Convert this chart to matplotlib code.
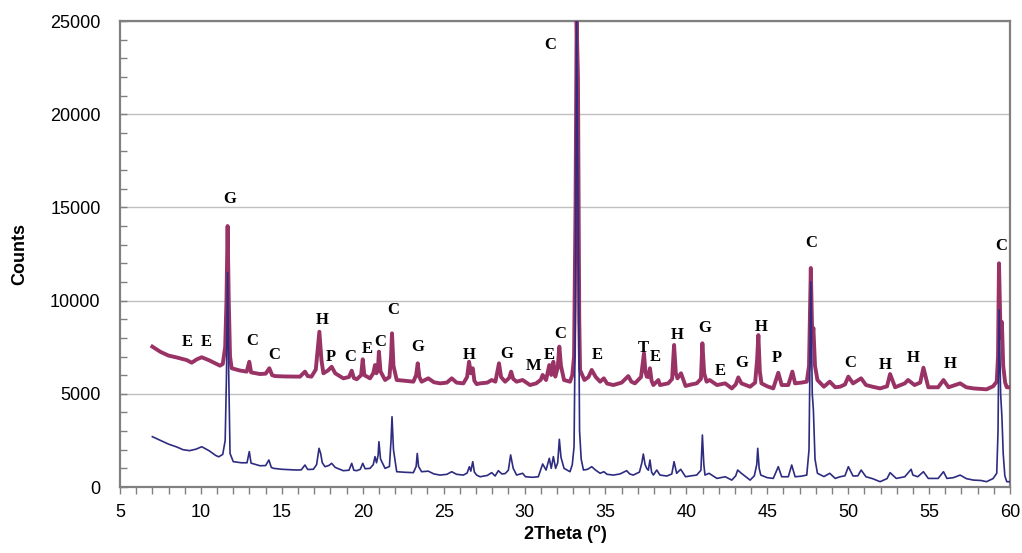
import matplotlib
matplotlib.use("Agg")
import matplotlib.pyplot as plt
from matplotlib.ticker import MultipleLocator

# ---- data (2theta in degrees, counts) ----
blue_pattern = [
    (7.0, 2700), (7.5, 2500), (8.0, 2300), (8.5, 2150), (8.9, 2000), (9.3, 1950), (9.7, 2030),
    (10.05, 2160), (10.5, 1950), (10.9, 1700), (11.1, 1620), (11.35, 1750), (11.5, 2500),
    (11.58, 6000), (11.65, 11500), (11.72, 6000), (11.8, 1800), (12.0, 1360), (12.5, 1300),
    (12.85, 1300), (12.99, 1900), (13.1, 1280), (13.65, 1140), (14.0, 1150), (14.2, 1450),
    (14.35, 1050), (14.5, 1000), (15.0, 950), (15.5, 930), (15.92, 910), (16.2, 920),
    (16.43, 1180), (16.6, 940), (16.95, 950), (17.15, 1200), (17.3, 2075), (17.4, 1800),
    (17.5, 1300), (17.67, 1090), (17.9, 1150), (18.08, 1270), (18.3, 1050), (18.8, 875),
    (19.15, 900), (19.32, 1270), (19.45, 900), (19.63, 875), (19.85, 950), (20.0, 1270),
    (20.15, 980), (20.45, 1000), (20.65, 1200), (20.76, 1630), (20.85, 1300), (20.95, 1700),
    (21.0, 2430), (21.1, 1500), (21.38, 1000), (21.65, 1100), (21.75, 2500), (21.81, 3770),
    (21.9, 2000), (22.1, 820), (22.6, 790), (23.13, 770), (23.3, 1100), (23.37, 1800),
    (23.45, 1100), (23.64, 820), (24.05, 850), (24.4, 700), (24.78, 640), (25.2, 680),
    (25.5, 820), (25.8, 680), (26.22, 640), (26.45, 750), (26.59, 1090), (26.68, 850),
    (26.8, 1360), (26.9, 800), (27.04, 640), (27.25, 550), (27.7, 620), (27.97, 770),
    (28.18, 590), (28.38, 875), (28.6, 700), (28.8, 720), (29.0, 900), (29.14, 1720),
    (29.3, 1000), (29.51, 640), (29.88, 735), (30.06, 550), (30.5, 520), (30.85, 550),
    (31.12, 1235), (31.33, 910), (31.53, 1540), (31.65, 1000), (31.78, 1630), (31.92, 1000),
    (32.05, 1300), (32.15, 2560), (32.25, 1600), (32.44, 1000), (32.81, 820), (32.95, 1200),
    (33.06, 2160), (33.15, 10000), (33.22, 25000), (33.3, 15000), (33.4, 3000), (33.5, 1500),
    (33.64, 910), (33.9, 950), (34.15, 1090), (34.4, 900), (34.67, 735), (34.9, 820),
    (35.1, 680), (35.49, 640), (35.9, 700), (36.31, 875), (36.5, 700), (36.72, 640),
    (37.1, 800), (37.25, 1300), (37.34, 1770), (37.45, 1200), (37.55, 1000), (37.65, 900),
    (37.75, 1450), (37.85, 800), (37.96, 640), (38.17, 910), (38.37, 640), (38.8, 590),
    (39.1, 700), (39.24, 1360), (39.4, 735), (39.65, 950), (39.95, 550), (40.3, 600),
    (40.64, 640), (40.9, 900), (40.99, 2790), (41.08, 1200), (41.15, 640), (41.4, 735),
    (41.89, 460), (42.4, 550), (42.81, 370), (43.05, 600), (43.17, 910), (43.4, 735),
    (43.94, 370), (44.2, 600), (44.35, 1200), (44.41, 2075), (44.5, 1000), (44.6, 640),
    (45.0, 500), (45.37, 460), (45.68, 1090), (45.89, 550), (46.3, 550), (46.51, 1180),
    (46.72, 550), (47.1, 580), (47.44, 640), (47.58, 2000), (47.69, 11000), (47.78, 5000),
    (47.85, 4130), (47.95, 1500), (48.1, 735), (48.5, 560), (48.86, 735), (49.2, 460),
    (49.5, 550), (49.8, 600), (50.01, 1090), (50.3, 590), (50.6, 600), (50.8, 910),
    (51.1, 550), (51.5, 450), (51.97, 285), (52.4, 450), (52.59, 770), (52.97, 460),
    (53.5, 550), (53.89, 950), (54.0, 640), (54.3, 550), (54.65, 820), (54.95, 460),
    (55.56, 460), (55.89, 820), (56.1, 460), (56.5, 500), (56.92, 640), (57.3, 450),
    (57.74, 370), (58.2, 350), (58.55, 285), (58.95, 450), (59.18, 735), (59.26, 3000),
    (59.33, 9500), (59.42, 5000), (59.5, 3770), (59.58, 1800), (59.68, 600), (59.8, 285),
    (60.0, 285),
]

pink_pattern = [
    (7.0, 7530), (7.5, 7250), (8.0, 7050), (8.5, 6950), (9.12, 6810), (9.43, 6670), (9.75, 6850),
    (10.05, 6960), (10.5, 6800), (11.18, 6510), (11.35, 6600), (11.5, 7500), (11.58, 10000),
    (11.65, 14000), (11.72, 10000), (11.8, 7000), (11.9, 6370), (12.4, 6250), (12.83, 6190),
    (12.99, 6720), (13.1, 6150), (13.65, 6060), (14.0, 6080), (14.23, 6370), (14.4, 6000),
    (14.58, 5950), (15.2, 5930), (15.92, 5920), (16.12, 5920), (16.43, 6190), (16.6, 5950),
    (16.83, 5920), (17.1, 6300), (17.32, 8330), (17.45, 6800), (17.57, 6100), (17.85, 6250),
    (18.08, 6450), (18.3, 6100), (18.8, 5830), (19.15, 5900), (19.32, 6240), (19.45, 5850),
    (19.63, 5780), (19.9, 6000), (20.0, 6850), (20.1, 6000), (20.45, 5830), (20.65, 6100),
    (20.76, 6545), (20.85, 6100), (20.95, 6500), (21.0, 7260), (21.1, 6200), (21.38, 5740),
    (21.65, 5900), (21.75, 7000), (21.81, 8245), (21.9, 6500), (22.1, 5740), (22.6, 5700),
    (23.13, 5650), (23.3, 6000), (23.4, 6635), (23.5, 5900), (23.64, 5650), (24.05, 5830),
    (24.4, 5620), (24.78, 5560), (25.2, 5600), (25.5, 5830), (25.8, 5600), (26.22, 5560),
    (26.45, 5900), (26.57, 6720), (26.68, 6100), (26.8, 6370), (26.9, 5700), (27.04, 5520),
    (27.25, 5560), (27.7, 5600), (27.97, 5740), (28.2, 5650), (28.42, 6635), (28.55, 5900),
    (28.8, 5650), (29.05, 5850), (29.17, 6190), (29.3, 5800), (29.51, 5650), (29.88, 5740),
    (30.34, 5470), (30.72, 5560), (31.0, 5750), (31.12, 6010), (31.33, 5740), (31.53, 6545),
    (31.65, 6010), (31.78, 6720), (31.9, 5920), (32.05, 6400), (32.15, 7530), (32.25, 6500),
    (32.44, 5740), (32.81, 5650), (32.95, 6000), (33.06, 7000), (33.15, 15000), (33.22, 25000),
    (33.3, 22000), (33.38, 9000), (33.43, 6280), (33.7, 5740), (33.95, 5900), (34.15, 6280),
    (34.4, 5900), (34.67, 5650), (34.9, 5830), (35.1, 5550), (35.49, 5470), (36.0, 5600),
    (36.41, 5950), (36.6, 5650), (36.82, 5560), (37.2, 5900), (37.38, 7170), (37.47, 6200),
    (37.55, 5920), (37.65, 5900), (37.75, 6370), (37.85, 5700), (37.96, 5470), (38.27, 5740),
    (38.37, 5470), (38.88, 5560), (39.12, 5800), (39.24, 7620), (39.35, 6100), (39.45, 5830),
    (39.67, 6100), (39.95, 5420), (40.3, 5500), (40.64, 5560), (40.9, 5800), (40.99, 7710),
    (41.1, 6100), (41.25, 5650), (41.44, 5740), (41.89, 5470), (42.4, 5560), (42.81, 5290),
    (43.05, 5500), (43.21, 5880), (43.4, 5560), (43.94, 5380), (44.25, 5600), (44.37, 6800),
    (44.45, 8150), (44.54, 6200), (44.64, 5560), (45.0, 5400), (45.37, 5290), (45.68, 6130),
    (45.89, 5470), (46.3, 5470), (46.55, 6190), (46.72, 5560), (47.1, 5600), (47.44, 5650),
    (47.58, 6500), (47.69, 11750), (47.78, 8000), (47.85, 8530), (47.95, 6500), (48.1, 5740),
    (48.5, 5380), (48.86, 5650), (49.2, 5350), (49.5, 5380), (49.8, 5500), (50.01, 5920),
    (50.3, 5560), (50.8, 5830), (51.1, 5470), (51.5, 5380), (51.97, 5290), (52.4, 5400),
    (52.59, 6060), (52.9, 5350), (53.5, 5560), (53.7, 5740), (54.1, 5470), (54.45, 5600),
    (54.65, 6400), (54.95, 5350), (55.56, 5350), (55.89, 5740), (56.2, 5350), (56.92, 5560),
    (57.3, 5350), (57.74, 5290), (58.55, 5240), (58.95, 5400), (59.18, 5650), (59.26, 7000),
    (59.32, 12000), (59.42, 8000), (59.5, 8850), (59.58, 6500), (59.7, 5600), (59.8, 5350),
    (60.0, 5350),
]

# phase labels: (text, 2theta, counts)
peak_labels = [
    ("G", 11.8, 15450), ("C", 31.58, 23710), ("E", 9.14, 7780), ("E", 10.32, 7780),
    ("C", 13.16, 7830), ("C", 14.52, 7080), ("H", 17.48, 8960), ("P", 18.04, 6970),
    ("C", 19.2, 6970), ("E", 20.27, 7400), ("C", 21.07, 7780), ("C", 21.87, 9500),
    ("G", 23.42, 7510), ("H", 26.57, 7080), ("G", 28.92, 7135), ("M", 30.53, 6490),
    ("E", 31.51, 7080), ("C", 32.19, 8210), ("E", 34.48, 7080), ("T", 37.32, 7460),
    ("E", 38.07, 6970), ("H", 39.43, 8150), ("G", 41.16, 8530), ("E", 42.08, 6220),
    ("G", 43.44, 6650), ("H", 44.62, 8580), ("P", 45.6, 6920), ("C", 47.71, 13090),
    ("C", 50.12, 6650), ("H", 52.28, 6545), ("H", 54.01, 6920), ("H", 56.3, 6600),
    ("C", 59.45, 12930),
]

x_ticks = [5, 10, 15, 20, 25, 30, 35, 40, 45, 50, 55, 60]
y_ticks = [0, 5000, 10000, 15000, 20000, 25000]

# ---- styling ----
plt.rcParams['font.family'] = ['Liberation Sans', 'DejaVu Sans']
plt.rcParams['mathtext.fontset'] = 'custom'
plt.rcParams['mathtext.bf'] = 'Liberation Sans:bold'
plt.rcParams['mathtext.rm'] = 'Liberation Sans'

fig = plt.figure(figsize=(10.22, 5.53), dpi=100)
ax = fig.add_axes([120/1022, 1 - 487/553, 890/1022, 466/553])

pink_color = '#993366'
blue_color = '#2e2c80'

px, py = zip(*pink_pattern)
bx, by = zip(*blue_pattern)
ax.plot(px, py, color=pink_color, lw=2.8, solid_joinstyle='round', zorder=3)
ax.plot(bx, by, color=blue_color, lw=1.2, solid_joinstyle='round', zorder=4)

for txt, xx, yy in peak_labels:
    ax.text(xx, yy, txt, ha='center', va='center', fontsize=12, fontweight='bold',
            family=['Liberation Serif', 'DejaVu Serif'], color='black', zorder=5)

ax.set_xlim(5, 60)
ax.set_ylim(0, 25000)
ax.set_xticks(x_ticks)
ax.set_yticks(y_ticks)
ax.xaxis.set_minor_locator(MultipleLocator(1))
ax.yaxis.set_minor_locator(MultipleLocator(1000))

ax.grid(axis='y', which='major', color='#c0c0c0', lw=1.0, zorder=0)
ax.set_axisbelow(True)

for sp in ax.spines.values():
    sp.set_color('#808080')
    sp.set_linewidth(1.6)

ax.tick_params(axis='x', which='both', direction='out', length=5, width=1, color='#808080',
               labelsize=13, pad=7)
ax.tick_params(axis='y', which='both', direction='in', length=5, width=1, color='#808080',
               labelsize=13, pad=14)

ax.set_xlabel(r'2Theta ($\mathbf{^{o}}$)', fontsize=13, fontweight='bold', labelpad=2)
ax.set_ylabel('Counts', fontsize=13, fontweight='bold', labelpad=16)

fig.savefig('out.png', dpi=100)
